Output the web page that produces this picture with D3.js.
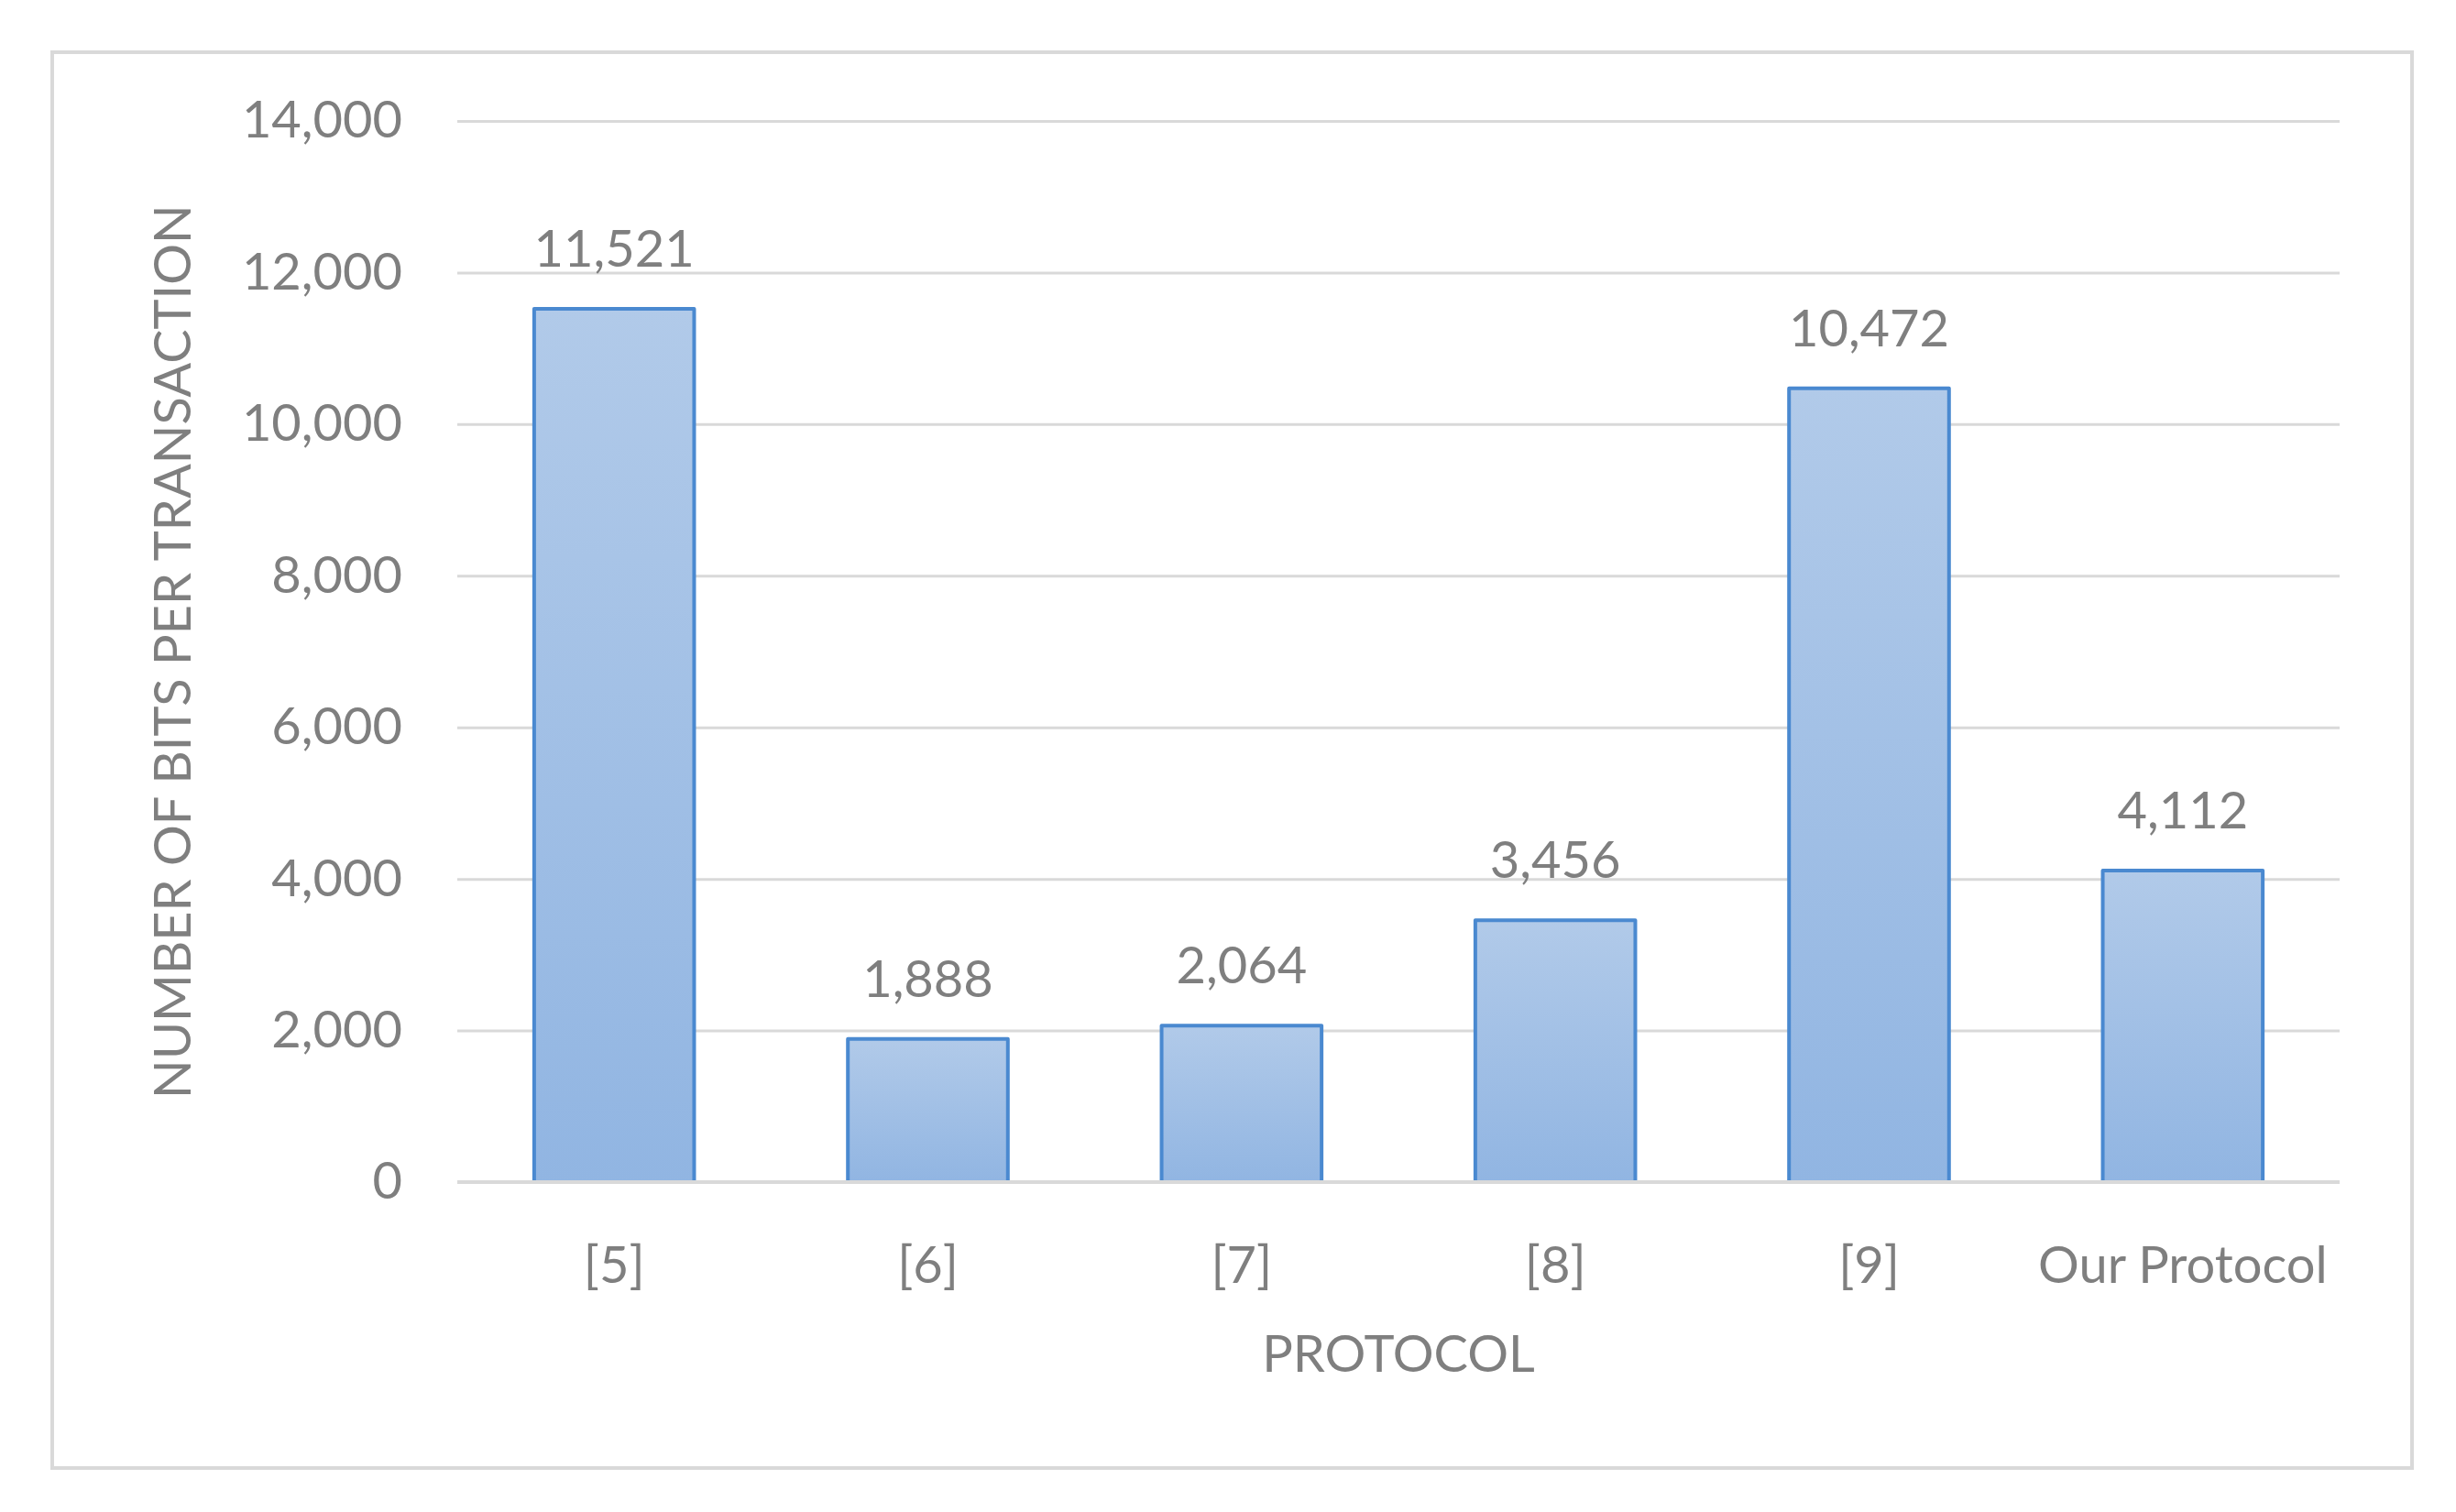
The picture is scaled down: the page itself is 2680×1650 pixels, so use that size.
<!DOCTYPE html>
<html>
<head>
<meta charset="utf-8">
<script src="https://cdn.jsdelivr.net/npm/d3@7"></script>
<style>
  body { margin: 0; background: #fff; }
  text { font-family: Lato, "Open Sans", sans-serif; fill: #7f7f7f; }
</style>
</head>
<body>
<div id="chart"></div>
<script>
// data
var protocols = ['[5]', '[6]', '[7]', '[8]', '[9]', 'Our Protocol'];
var bitsPerTransaction = [11521, 1888, 2064, 3456, 10472, 4112];
var yTicks = [0, 2000, 4000, 6000, 8000, 10000, 12000, 14000];
var yTitle = 'NUMBER OF BITS PER TRANSACTION';
var xTitle = 'PROTOCOL';

var width = 2680, height = 1650;
var plotLeft = 499, plotRight = 2553, plotTop = 132, plotBottom = 1290;

var svg = d3.select('#chart').append('svg')
  .attr('width', width)
  .attr('height', height);

svg.append('rect')
  .attr('width', width).attr('height', height)
  .attr('fill', '#fff');

// outer frame
svg.append('rect')
  .attr('x', 57).attr('y', 57)
  .attr('width', 2575).attr('height', 1545)
  .attr('fill', 'none')
  .attr('stroke', '#d9d9d9')
  .attr('stroke-width', 4);

var defs = svg.append('defs');
var grad = defs.append('linearGradient')
  .attr('id', 'barfill')
  .attr('x1', 0).attr('y1', 0).attr('x2', 0).attr('y2', 1);
grad.append('stop').attr('offset', '0%').attr('stop-color', '#b1cae9');
grad.append('stop').attr('offset', '100%').attr('stop-color', '#91b5e2');

var x = d3.scaleBand()
  .domain(protocols)
  .range([plotLeft, plotRight])
  .paddingInner(0.49)
  .paddingOuter(0.245);

var y = d3.scaleLinear()
  .domain([0, 14000])
  .range([plotBottom, plotTop]);

// gridlines + tick labels
var yAxis = svg.append('g')
  .attr('transform', 'translate(' + plotLeft + ',0)')
  .call(d3.axisLeft(y)
    .tickValues(yTicks)
    .tickFormat(d3.format(','))
    .tickSize(-(plotRight - plotLeft))
    .tickPadding(60));
yAxis.select('.domain').remove();
yAxis.selectAll('line')
  .attr('stroke', '#d9d9d9')
  .attr('stroke-width', 3);
yAxis.selectAll('text')
  .attr('font-size', 56)
  .attr('fill', '#7f7f7f')
  .style('font-family', 'Lato, sans-serif');

var data = protocols.map(function(p, i) {
  return { name: p, value: bitsPerTransaction[i] };
});

// bars
svg.append('g').selectAll('rect')
  .data(data)
  .enter()
  .append('rect')
  .attr('x', d => x(d.name))
  .attr('y', d => y(d.value))
  .attr('width', x.bandwidth())
  .attr('height', d => y(0) - y(d.value))
  .attr('fill', 'url(#barfill)')
  .attr('stroke', '#4a89d0')
  .attr('stroke-width', 4)
  .attr('stroke-linejoin', 'round');

// baseline
svg.append('line')
  .attr('x1', plotLeft).attr('x2', plotRight)
  .attr('y1', y(0)).attr('y2', y(0))
  .attr('stroke', '#d9d9d9')
  .attr('stroke-width', 4);

// value labels
svg.append('g').selectAll('text')
  .data(data)
  .enter()
  .append('text')
  .attr('x', d => x(d.name) + x.bandwidth() / 2)
  .attr('y', d => y(d.value) - 46)
  .attr('text-anchor', 'middle')
  .attr('font-size', 56)
  .text(d => d3.format(',')(d.value));

// category labels
var xAxis = svg.append('g')
  .attr('transform', 'translate(0,' + plotBottom + ')')
  .call(d3.axisBottom(x).tickSize(0).tickPadding(70));
xAxis.select('.domain').remove();
xAxis.selectAll('text')
  .attr('font-size', 56)
  .attr('fill', '#7f7f7f')
  .style('font-family', 'Lato, sans-serif');

// axis titles
svg.append('text')
  .attr('x', (plotLeft + plotRight) / 2)
  .attr('y', 1497)
  .attr('text-anchor', 'middle')
  .attr('font-size', 56)
  .text(xTitle);

svg.append('text')
  .attr('transform', 'translate(208,711) rotate(-90)')
  .attr('text-anchor', 'middle')
  .attr('font-size', 56)
  .text(yTitle);
</script>
</body>
</html>
